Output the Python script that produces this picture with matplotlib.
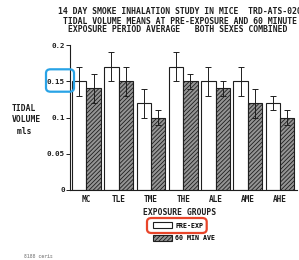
import numpy as np
import matplotlib
matplotlib.use("Agg")
import matplotlib.pyplot as plt
from matplotlib.patches import Patch, FancyBboxPatch

# values
groups = ["MC", "TLE", "TME", "THE", "ALE", "AME", "AHE"]
pre_exp = [0.15, 0.17, 0.12, 0.17, 0.15, 0.15, 0.12]
pre_err = [0.02, 0.02, 0.02, 0.02, 0.02, 0.02, 0.01]
min60_ave = [0.14, 0.15, 0.10, 0.15, 0.14, 0.12, 0.10]
min60_err = [0.02, 0.02, 0.01, 0.01, 0.01, 0.02, 0.01]
yticks = [0, 0.05, 0.1, 0.15, 0.2]
ytick_labels = ["0", "0.05", "0.1", "0.15", "0.2"]

W, H = 299, 260
MONO = "DejaVu Sans Mono"
INK = "#1e1e1e"
HATCH_FACE = "#949494"

plt.rcParams["font.family"] = MONO
plt.rcParams["font.weight"] = "bold"
plt.rcParams["hatch.linewidth"] = 0.6


def fx(px):
    return px / W


def fy(py):
    return 1 - py / H


fig = plt.figure(figsize=(W / 100, H / 100), dpi=100)
ax = fig.add_axes([fx(70), fy(190), fx(297) - fx(70), fy(45) - fy(190)])

x = np.arange(len(groups))
bw = 0.446
ax.bar(x - bw / 2, pre_exp, bw, color="white", edgecolor=INK, linewidth=0.8)
ax.bar(x + bw / 2, min60_ave, bw, color=HATCH_FACE, edgecolor=INK,
       linewidth=0.8, hatch="////////")
ax.errorbar(x - bw / 2, pre_exp, yerr=pre_err, fmt="none", ecolor=INK,
            elinewidth=0.7, capsize=1.9, capthick=0.7)
ax.errorbar(x + bw / 2, min60_ave, yerr=min60_err, fmt="none", ecolor=INK,
            elinewidth=0.7, capsize=1.9, capthick=0.7)

ax.set_xlim(-0.508, 6.524)
ax.set_ylim(0, 0.2)
ax.set_yticks(yticks)
ax.set_yticklabels(ytick_labels)
ax.set_xticks(x)
ax.set_xticklabels(groups)
ax.tick_params(axis="y", direction="out", length=3, width=0.7, pad=0.8,
               labelsize=5.4, colors=INK)
ax.tick_params(axis="x", length=0, pad=3.5, labelsize=5.6, colors=INK)
for s in ["top", "right"]:
    ax.spines[s].set_visible(False)
for s in ["left", "bottom"]:
    ax.spines[s].set_linewidth(0.8)
    ax.spines[s].set_color(INK)

# titles (first line runs off the right edge in the scan too)
fig.text(fx(58), fy(11.7), "14 DAY SMOKE INHALATION STUDY IN MICE  TRD-ATS-020",
         fontsize=5.9, va="center", ha="left", color=INK)
fig.text(fx(63), fy(21), "TIDAL VOLUME MEANS AT PRE-EXPOSURE AND 60 MINUTE",
         fontsize=5.9, va="center", ha="left", color=INK)
fig.text(fx(68), fy(29.3), "EXPOSURE PERIOD AVERAGE   BOTH SEXES COMBINED",
         fontsize=5.9, va="center", ha="left", color=INK)

fig.text(fx(12), fy(120), "TIDAL\nVOLUME\n mls", fontsize=5.8, va="center",
         ha="left", color=INK, linespacing=1.3)
fig.text(fx(179.7), fy(212.7), "EXPOSURE GROUPS", fontsize=5.8, va="center",
         ha="center", color=INK)

handles = [Patch(facecolor="white", edgecolor=INK, linewidth=0.8),
           Patch(facecolor=HATCH_FACE, edgecolor=INK, linewidth=0.8, hatch="////////")]
fig.legend(handles, ["PRE-EXP", "60 MIN AVE"], loc="upper left",
           bbox_to_anchor=(fx(152.7), fy(222.5)), frameon=False, fontsize=4.8,
           borderpad=0, handlelength=2.85, handleheight=0.9, handletextpad=0.5,
           labelspacing=1.0, borderaxespad=0)

# highlight boxes
fig.patches.append(FancyBboxPatch((fx(147), fy(233)), fx(206.7) - fx(147),
                                  fy(218) - fy(233), boxstyle="round,pad=0,rounding_size=0.015",
                                  transform=fig.transFigure, fill=False,
                                  edgecolor="#e8452a", linewidth=1.6))
fig.patches.append(FancyBboxPatch((fx(46), fy(91.7)), fx(74) - fx(46),
                                  fy(69.3) - fy(91.7), boxstyle="round,pad=0,rounding_size=0.015",
                                  transform=fig.transFigure, fill=False,
                                  edgecolor="#29a3e6", linewidth=1.6))

fig.text(fx(38), fy(256), "8188 ceris", fontsize=3.5, va="center", ha="center",
         color="#9a9a9a")

fig.savefig("out.png", dpi=100)
